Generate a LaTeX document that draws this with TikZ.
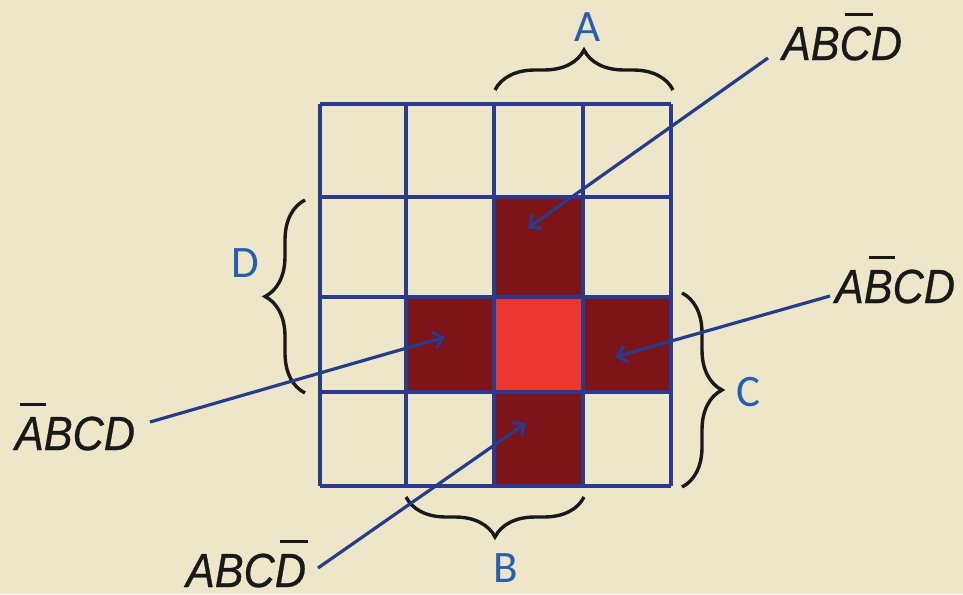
\documentclass[tikz,border=0pt]{standalone}
\usepackage{fontspec}
\usetikzlibrary{arrows.meta,decorations.pathreplacing}
\newfontfamily\termfont{Liberation Sans Italic}[FakeStretch=0.9,FakeBold=0.6]
\newfontfamily\varfont{Carlito}
\definecolor{paper}{HTML}{EEE6C8}
\definecolor{gridblue}{HTML}{2A3B8F}
\definecolor{arrowblue}{HTML}{263D8C}
\definecolor{letterblue}{HTML}{2360B4}
\definecolor{darkcell}{HTML}{7D1418}
\definecolor{brightcell}{HTML}{EE3631}
\newcommand\ovl[1]{\setbox0\hbox{#1}\makebox[0pt][l]{\hspace{5pt}\raisebox{44pt}{\rule{\dimexpr\wd0-3pt\relax}{2.6pt}}}#1}
\tikzset{
  gridline/.style={draw=gridblue,line width=3.2pt},
  term/.style={font=\termfont\fontsize{48}{48}\selectfont,text=black!90,inner sep=0pt,anchor=center},
  varlabel/.style={font=\varfont\fontsize{45}{45}\selectfont,text=letterblue,inner sep=0pt,anchor=center},
  bracestyle/.style={draw=black!90,line width=3.4pt,decorate,decoration={brace,amplitude=40pt}},
  pointer/.style={draw=arrowblue,line width=3.2pt,-{Straight Barb[length=9pt,width=17pt,line width=3.2pt]}},
}
\begin{document}
\begin{tikzpicture}[x=1pt,y=-1pt]
\useasboundingbox (0,0) rectangle (963,594);
\fill[paper] (0,0) rectangle (963,594);
% filled cells
\fill[darkcell] (494,197) rectangle (583,297);
\fill[darkcell] (406,297) rectangle (494,392);
\fill[darkcell] (583,297) rectangle (671,392);
\fill[darkcell] (494,392) rectangle (583,486);
\fill[brightcell] (494,297) rectangle (583,392);
% grid
\foreach \x in {320,406,494,583,671} \draw[gridline] (\x,104) -- (\x,486);
\foreach \y in {104,197,297,392,486} \draw[gridline] (320,\y) -- (671,\y);
% braces
\draw[bracestyle] (495,90) -- (673,90);
\draw[bracestyle] (305,393) -- (305,200);
\draw[bracestyle] (682,293) -- (682,487);
\draw[bracestyle] (584,497) -- (406,497);
% variable labels
\node[varlabel] (la) at (588,27) {A};
\node[varlabel] (ld) at (245,263) {D};
\node[varlabel] (lc) at (748,392) {C};
\node[varlabel] (lb) at (506,568) {B};
% terms
\node[term] (t1) at (842,37) {AB\ovl{C}D};
\node[term] (t2) at (895,280) {A\ovl{B}CD};
\node[term] (t3) at (75,427) {\ovl{A}BCD};
\node[term] (t4) at (246,564) {ABC\ovl{D}};
% arrow ends
\coordinate (s1) at (768,58);
\coordinate (e1) at (528,228);
\coordinate (s2) at (830,296);
\coordinate (e2) at (615,357);
\coordinate (s3) at (150,422);
\coordinate (e3) at (445,337);
\coordinate (s4) at (318,568);
\coordinate (e4) at (526,423);
\draw[pointer] (s1) -- (e1);
\draw[pointer] (s2) -- (e2);
\draw[pointer] (s3) -- (e3);
\draw[pointer] (s4) -- (e4);
\end{tikzpicture}
\end{document}
